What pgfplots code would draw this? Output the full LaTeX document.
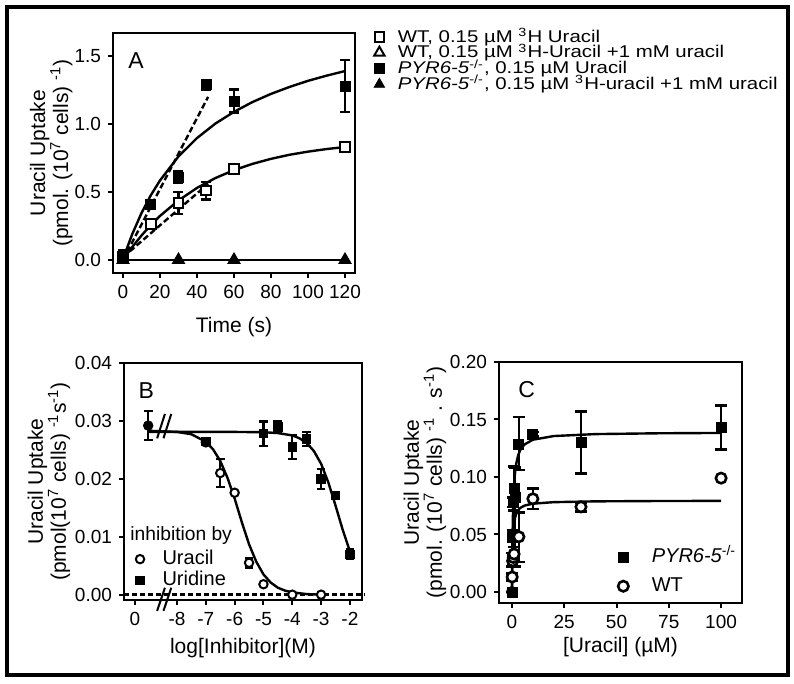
\documentclass[border=0pt]{standalone}
\usepackage{pgfplots}
\pgfplotsset{compat=1.18}
\usepackage{graphicx}
\usepackage{fontspec}
\setmainfont{Liberation Sans}
\newcommand{\sx}[1]{\scalebox{1.2}[1]{#1}}

\pgfplotsset{
 panel/.style={scale only axis, axis line style={line width=1pt}, major tick style={line width=1pt,black},
   tick align=outside, major tick length=2.5pt, xtick pos=left, ytick pos=left, minor tick num=0,
   scaled ticks=false,
   ticklabel style={font=\fontsize{9.5}{11}\selectfont}, label style={font=\fontsize{10.5}{11.5}\selectfont},
   clip=false, legend cell align=left},
 fit/.style={black, line width=1.2pt, no marks, forget plot},
 limg/.style 2 args={legend image code/.code={\path[draw=none,fill=none] (0pt,-1pt) rectangle (#2,1pt); \draw[mark repeat=1,##1] plot coordinates {(#1,0pt)};}},
 leg/.style={legend style={draw=none, fill=none, font=\fontsize{10}{11}\selectfont, inner sep=0pt,
   nodes={inner xsep=1.5pt, inner ysep=0pt, text height=6.5pt, text depth=1.3pt}}},
 ebA/.style={error bars/.cd, y dir=both, y explicit, error bar style={line width=1.2pt,black}, error mark options={rotate=90, mark size=2.5pt, line width=1.2pt,black}},
 ebB/.style={error bars/.cd, y dir=both, y explicit, error bar style={line width=1.1pt,black}, error mark options={rotate=90, mark size=2.2pt, line width=1.1pt,black}},
 ebC/.style={error bars/.cd, y dir=both, y explicit, error bar style={line width=1.3pt,black}, error mark options={rotate=90, mark size=3pt, line width=1.3pt,black}},
}

\pgfplotstableread{
x y ey
0 0.02 0
15 0.265 0.01
30 0.42 0.08
45 0.51 0.065
60 0.67 0.01
120 0.83 0.01
}\WTsq
\pgfplotstableread{
x y ey
0 0.04 0
15 0.41 0
30 0.61 0.04
45 1.29 0.035
60 1.17 0.085
120 1.28 0.19
}\PYRsq
\pgfplotstableread{
x y
0 0
30 0
60 0
120 0
}\Tri
\pgfplotstableread{
x y ey
-7 0.0263 0.0005
-6.5 0.0210 0.0024
-6 0.0176 0
-5.5 0.0055 0.0008
-5 0.0018 0
-4 0.0000 0
-3 0.0000 0
}\Ura
\pgfplotstableread{
x y ey
-7 0.0265 0.0006
-5 0.0278 0.0021
-4.5 0.0290 0.0010
-4 0.0255 0.0021
-3.5 0.0269 0.0012
-3 0.0200 0.0017
-2.5 0.0171 0
-2 0.0070 0.0009
}\Uri
\pgfplotstableread{
x y ep em
0 0.000 0 0
0.1 0.028 0.006 0.006
0.33 0.049 0.005 0.005
0.66 0.078 0.004 0.004
1 0.090 0.019 0.019
1.5 0.082 0.026 0.060
3.3 0.128 0.024 0.022
10 0.137 0.002 0.002
33 0.130 0.027 0.027
100 0.143 0.019 0.019
}\PYRc
\pgfplotstableread{
x y ep em
0.1 0.013 0.003 0.003
0.33 0.027 0.005 0.005
0.66 0.030 0.004 0.004
1 0.033 0.006 0.006
3.3 0.048 0.021 0.022
10 0.081 0.009 0.009
33 0.074 0.004 0.004
100 0.099 0 0
}\WTc

\begin{document}
\begin{tikzpicture}
\fill[white] (0,0) rectangle (397pt,-342pt);
\draw[line width=2pt] (3.5pt,-3.75pt) rectangle (393.75pt,-337.75pt);

% ---------------- Panel A
\begin{axis}[panel, leg, at={(56.5pt,-136.5pt)}, anchor=south west, width=121pt, height=120pt,
  xmin=-5.4, xmax=125.4, ymin=-0.096, ymax=1.67,
  xtick={0,20,40,60,80,100,120}, xticklabels={0,20,40,60,80,100,120},
  ytick={0,0.5,1,1.5}, yticklabels={0.0,0.5,1.0,1.5},
  xlabel={Time (s)}, xlabel style={at={(axis description cs:0.5,-0.246)}, anchor=base},
  ylabel={Uracil Uptake\\(pmol. (10\textsuperscript{7} cells) \textsuperscript{-1})},
  ylabel style={at={(axis description cs:-0.255,0.5)}, anchor=center, align=center},
  legend style={at={(axis description cs:1.064,1.018)}, anchor=north west, row sep=0.1pt, font=\fontsize{8.5}{9}\selectfont},
]
\addplot[fit] coordinates {(0,0) (2,0.039) (5,0.095) (10,0.180) (15,0.256) (20,0.324) (30,0.438) (40,0.530) (50,0.603) (60,0.661) (70,0.707) (80,0.744) (90,0.774) (100,0.797) (110,0.816) (120,0.831)};
\addplot[fit] coordinates {(0,0) (2,0.081) (5,0.190) (10,0.345) (15,0.475) (20,0.585) (30,0.762) (40,0.897) (50,1.004) (60,1.090) (70,1.162) (80,1.222) (90,1.273) (100,1.318) (110,1.356) (120,1.390)};
\addplot[fit, dash pattern=on 3pt off 1.5pt] coordinates {(0,0) (46,1.20)};
\addplot[fit, dash pattern=on 3pt off 1.5pt] coordinates {(0,0.02) (46,0.56)};
\addplot[fit] coordinates {(-1,0) (121,0)};
\addplot[only marks, mark=square*, mark size=2.4pt, mark options={fill=white, draw=black, line width=1pt}, limg={4.25pt}{12pt}, ebA] table[x=x,y=y,y error=ey] {\WTsq};
\addlegendentry{\sx{WT, 0.15 µM \textsuperscript{3}H Uracil}}
\addplot[only marks, mark=triangle*, mark size=3pt, mark options={fill=white, draw=black, line width=1pt}, limg={4.25pt}{12pt}] table[x=x,y=y] {\Tri};
\addlegendentry{\sx{WT, 0.15 µM \textsuperscript{3}H-Uracil +1 mM uracil}}
\addplot[only marks, mark=square*, mark size=2.5pt, mark options={fill=black, draw=black}, limg={4.25pt}{12pt}, ebA] table[x=x,y=y,y error=ey] {\PYRsq};
\addlegendentry{\sx{\textit{PYR6-5}\textsuperscript{-/-}, 0.15 µM Uracil}}
\addplot[only marks, mark=triangle*, mark size=3pt, mark options={fill=black, draw=black}, limg={4.25pt}{12pt}] table[x=x,y=y] {\Tri};
\addlegendentry{\sx{\textit{PYR6-5}\textsuperscript{-/-}, 0.15 µM \textsuperscript{3}H-uracil +1 mM uracil}}
\node[anchor=base west, inner sep=0pt, font=\fontsize{11.5}{12}\selectfont] at (axis cs:2.7,1.41) {A};
\end{axis}

% ---------------- Panel B
\begin{axis}[panel, leg, at={(62pt,-300pt)}, anchor=south west, width=119pt, height=118.5pt,
  xmin=-9.84, xmax=-1.58, ymin=-0.00092, ymax=0.04,
  xtick={-9.46,-8,-7,-6,-5,-4,-3,-2}, xticklabels={0,-8,-7,-6,-5,-4,-3,-2},
  ytick={0,0.01,0.02,0.03,0.04}, yticklabels={0.00,0.01,0.02,0.03,0.04},
  xlabel={log[Inhibitor](M)}, xlabel style={at={(axis description cs:0.5,-0.224)}, anchor=base},
  ylabel={Uracil Uptake\\(pmol(10\textsuperscript{7} cells) \textsuperscript{-1}s\textsuperscript{-1})},
  ylabel style={at={(axis description cs:-0.315,0.5)}, anchor=center, align=center},
  legend style={at={(axis description cs:0.03,0.207)}, anchor=north west, row sep=2.7pt},
]
\addplot[fit, dash pattern=on 2.5pt off 1.5pt] coordinates {(-9.84,0) (-1.5,0)};
\addplot[fit] coordinates {(-9,0.0283) (-8,0.0281) (-7.5,0.0277) (-7,0.0264) (-6.75,0.0251) (-6.5,0.0231) (-6.25,0.0202) (-6,0.0166) (-5.75,0.0125) (-5.5,0.0087) (-5.25,0.0057) (-5,0.0035) (-4.75,0.0021) (-4.5,0.0012) (-4.25,0.0007) (-4,0.0004) (-3.5,0.0001) (-3,0.0)};
\addplot[fit] coordinates {(-9,0.0281) (-6,0.0281) (-5,0.02805) (-4.5,0.0279) (-4,0.0275) (-3.75,0.0270) (-3.5,0.0262) (-3.25,0.0248) (-3,0.0226) (-2.75,0.0194) (-2.5,0.0154) (-2.25,0.0112) (-2,0.0075)};
\addplot[only marks, forget plot, mark=*, mark size=2.4pt, mark options={fill=black}, ebB] coordinates {(-9.0,0.0292) +- (0,0.0025)};
\addplot[only marks, mark=*, mark size=2.1pt, mark options={fill=white, draw=black, line width=1pt}, limg={4.25pt}{14pt}, ebB] table[x=x,y=y,y error=ey] {\Ura};
\addlegendentry{Uracil}
\addplot[only marks, mark=square*, mark size=2.1pt, mark options={fill=black, draw=black}, limg={4.25pt}{14pt}, ebB] table[x=x,y=y,y error=ey] {\Uri};
\addlegendentry{Uridine}
\draw[line width=1pt] (axis cs:-8.69,0.0270) -- (axis cs:-8.42,0.0312);
\draw[line width=1pt] (axis cs:-8.47,0.0270) -- (axis cs:-8.20,0.0312);
\draw[line width=1pt] (axis cs:-8.69,-0.0028) -- (axis cs:-8.42,0.0012);
\draw[line width=1pt] (axis cs:-8.47,-0.0028) -- (axis cs:-8.20,0.0012);
\node[anchor=base west, inner sep=0pt, font=\fontsize{9.6}{11}\selectfont] at (axis cs:-9.63,0.00935) {inhibition by};
\node[anchor=base west, inner sep=0pt, font=\fontsize{11.5}{12}\selectfont] at (axis cs:-9.35,0.0339) {B};
\end{axis}

% ---------------- Panel C
\begin{axis}[panel, leg, at={(249.5pt,-301.5pt)}, anchor=south west, width=121.5pt, height=120.5pt,
  xmin=-6.2, xmax=110, ymin=-0.0096, ymax=0.2,
  xtick={0,25,50,75,100}, xticklabels={0,25,50,75,100},
  ytick={0,0.05,0.1,0.15,0.2}, yticklabels={0.00,0.05,0.10,0.15,0.20},
  xlabel={[Uracil] (µM)}, xlabel style={at={(axis description cs:0.5,-0.207)}, anchor=base},
  ylabel={Uracil Uptake\\(pmol. (10\textsuperscript{7} cells) \textsuperscript{-1} . s\textsuperscript{-1})},
  ylabel style={at={(axis description cs:-0.305,0.5)}, anchor=center, align=center},
  legend style={at={(axis description cs:0.475,0.224)}, anchor=north west, row sep=6.7pt},
]
\addplot[fit] coordinates {(0,0) (0.25,0.0463) (0.5,0.0695) (1,0.0927) (1.5,0.1043) (2,0.1112) (3,0.1191) (4,0.1236) (6,0.1283) (10,0.1324) (20,0.1356) (40,0.1373) (70,0.1380) (100,0.1383)};
\addplot[fit] coordinates {(0,0) (0.25,0.0331) (0.5,0.0468) (1,0.0589) (1.5,0.0645) (2,0.0677) (3,0.0712) (4,0.0731) (6,0.0751) (10,0.0768) (20,0.0781) (40,0.0788) (70,0.0791) (100,0.0792)};
\addplot[only marks, mark=square*, mark size=2.5pt, mark options={fill=black, draw=black}, limg={4.25pt}{17pt}, ebC] table[x=x,y=y,y error plus=ep,y error minus=em] {\PYRc};
\addlegendentry{\textit{PYR6-5}\textsuperscript{-/-}}
\addplot[only marks, mark=*, mark size=2.6pt, mark options={fill=white, draw=black, line width=1.3pt}, limg={4.25pt}{17pt}, ebC] table[x=x,y=y,y error plus=ep,y error minus=em] {\WTc};
\addlegendentry{WT}
\addplot[only marks, forget plot, mark=*, mark size=2.8pt, mark options={fill=black}] coordinates {(0,0)};
\node[anchor=base west, inner sep=0pt, font=\fontsize{11.5}{12}\selectfont] at (axis cs:2.9,0.1687) {C};
\end{axis}

\pgfresetboundingbox
\path[use as bounding box] (0,0) rectangle (397pt,-342pt);
\end{tikzpicture}
\end{document}
